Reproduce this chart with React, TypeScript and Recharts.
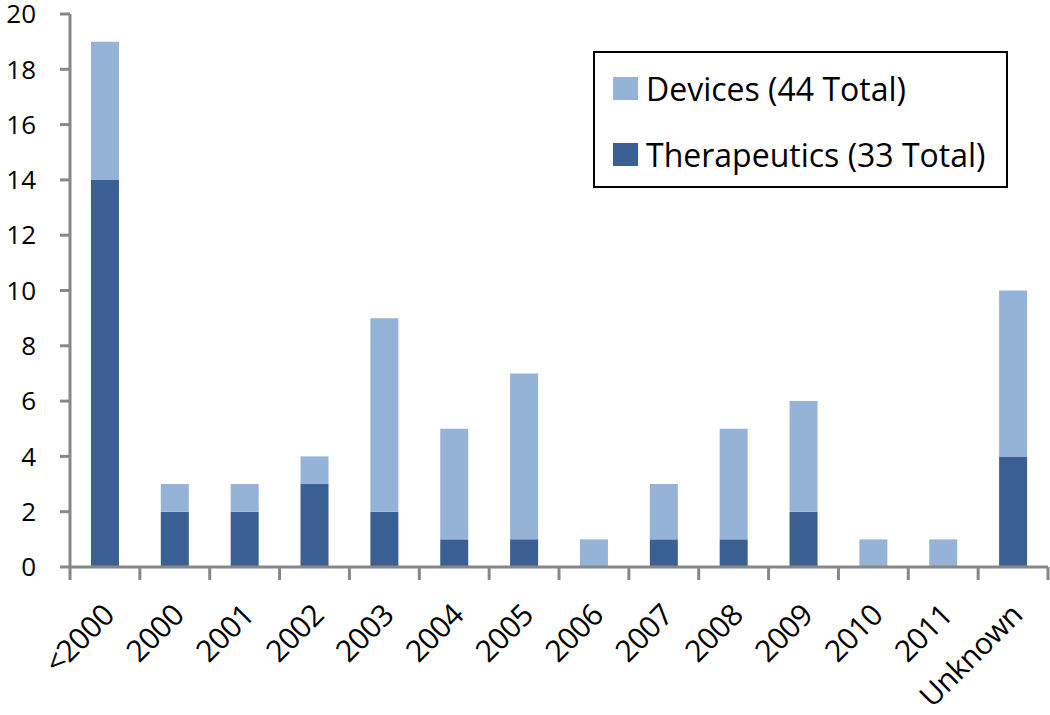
import { BarChart, Bar, XAxis, YAxis, Legend } from 'recharts'

const categories = ['<2000', '2000', '2001', '2002', '2003', '2004', '2005', '2006', '2007', '2008', '2009', '2010', '2011', 'Unknown']
const therapeutics = [14, 2, 2, 3, 2, 1, 1, 0, 1, 1, 2, 0, 0, 4]
const devices = [5, 1, 1, 1, 7, 4, 6, 1, 2, 4, 4, 1, 1, 6]
const yTicks = [0, 2, 4, 6, 8, 10, 12, 14, 16, 18, 20]

const seriesNames = {
  therapeutics: 'Therapeutics (33 Total)',
  devices: 'Devices (44 Total)',
}

const data = categories.map((cat, i) => ({
  cat,
  therapeutics: therapeutics[i],
  devices: devices[i],
}))

const FONT = '"Open Sans", sans-serif'
const AXIS_GRAY = '#878787'
const DARK = '#3a6093'
const LIGHT = '#95b3d7'

const XTick = (props: any) => {
  const { x, y, payload, index, visibleTicksCount } = props
  const half = payload.offset ?? 0
  const isLast = index === visibleTicksCount - 1
  const tx = x + 11
  const ty = y + 50
  return (
    <g>
      <line x1={x - half} x2={x - half} y1={y} y2={y + 13} stroke={AXIS_GRAY} strokeWidth={3} />
      {isLast && (
        <line x1={x + half} x2={x + half} y1={y} y2={y + 13} stroke={AXIS_GRAY} strokeWidth={3} />
      )}
      <text
        x={tx}
        y={ty}
        textAnchor="end"
        fontSize={30}
        letterSpacing={-0.6}
        fontFamily={FONT}
        fill="#000"
        transform={`rotate(-45 ${tx} ${ty})`}
      >
        {payload.value}
      </text>
    </g>
  )
}

// devices listed first, like the original
const LegendBox = ({ payload }: any) => {
  const items = [...(payload ?? [])].sort((a: any) => (a.dataKey === 'devices' ? -1 : 1))
  return (
    <div
      style={{
        boxSizing: 'border-box',
        width: 415,
        height: 137,
        border: '2px solid #000',
        background: '#fff',
        padding: '13px 0 0 18px',
        fontFamily: FONT,
      }}
    >
      {items.map((p: any) => (
        <div key={p.value} style={{ display: 'flex', alignItems: 'center', height: 44, marginBottom: 22 }}>
          <span style={{ width: 25, height: 23, background: p.color, marginRight: 8 }} />
          <span style={{ fontSize: 32, color: '#000', whiteSpace: 'nowrap' }}>{p.value}</span>
        </div>
      ))}
    </div>
  )
}

export default function App() {
  return (
    <div style={{ position: 'absolute', left: 0, top: 0, width: 1050, height: 715, background: '#fff' }}>
      <BarChart
        width={1050}
        height={715}
        data={data}
        margin={{ top: 14, right: 2, bottom: 0, left: 0 }}
        barCategoryGap="30%"
      >
        <XAxis
          dataKey="cat"
          height={148}
          interval={0}
          axisLine={{ stroke: AXIS_GRAY, strokeWidth: 3 }}
          tickLine={false}
          tickSize={0}
          tickMargin={0}
          tick={<XTick />}
        />
        <XAxis
          xAxisId="top"
          dataKey="cat"
          orientation="top"
          height={0}
          tick={false}
          tickLine={false}
          axisLine={{ stroke: '#000', strokeWidth: 2 }}
        />
        <YAxis
          width={70}
          domain={[0, 20]}
          ticks={yTicks}
          interval={0}
          tickSize={10}
          tickMargin={24}
          axisLine={{ stroke: AXIS_GRAY, strokeWidth: 3 }}
          tickLine={{ stroke: AXIS_GRAY, strokeWidth: 3 }}
          tick={{ fill: '#000', fontSize: 26, fontFamily: FONT }}
        />
        <YAxis
          yAxisId="right"
          orientation="right"
          width={0}
          domain={[0, 20]}
          tick={false}
          tickLine={false}
          axisLine={{ stroke: '#000', strokeWidth: 2 }}
        />
        <Legend
          layout="horizontal"
          align="center"
          verticalAlign="middle"
          wrapperStyle={{ left: 593, top: 51, width: 415, height: 137 }}
          content={<LegendBox />}
        />
        <Bar
          dataKey="therapeutics"
          name={seriesNames.therapeutics}
          stackId="a"
          fill={DARK}
          isAnimationActive={false}
        />
        <Bar
          dataKey="devices"
          name={seriesNames.devices}
          stackId="a"
          fill={LIGHT}
          isAnimationActive={false}
        />
      </BarChart>
    </div>
  )
}
